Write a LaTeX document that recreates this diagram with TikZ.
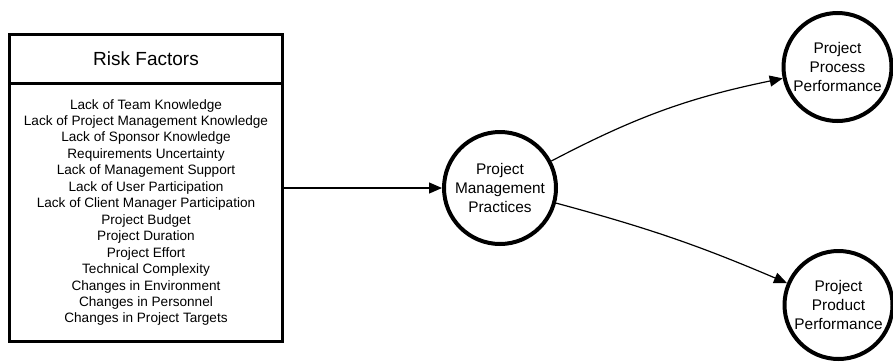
\documentclass[tikz,border=0pt]{standalone}
\usepackage{fontspec}
\setmainfont{Liberation Sans}
\usetikzlibrary{arrows.meta}
\tikzset{
  boxpart/.style={draw, line width=3pt, minimum width=273pt, inner sep=0pt, outer sep=0pt, align=center},
  factor/.style={draw, circle, line width=4pt, minimum size=108pt, inner sep=0pt, align=center,
    font=\fontsize{15.4}{18.8}\selectfont},
  link/.style={line width=1.2pt, -{Triangle[length=13pt,width=11pt]}}
}
\begin{document}
\begin{tikzpicture}[x=1pt, y=-1pt]
  \useasboundingbox (0,0) rectangle (893,362);
  % risk factor box: heading and list
  \node[boxpart, minimum height=49pt, font=\fontsize{19}{22}\selectfont] (title) at (146,59) {Risk Factors};
  \node[boxpart, minimum height=258pt, font=\fontsize{13.6}{16.45}\selectfont] (list) at (146,212.5)
    {Lack of Team Knowledge\\Lack of Project Management Knowledge\\Lack of Sponsor Knowledge\\
     Requirements Uncertainty\\Lack of Management Support\\Lack of User Participation\\
     Lack of Client Manager Participation\\Project Budget\\Project Duration\\Project Effort\\
     Technical Complexity\\Changes in Environment\\Changes in Personnel\\Changes in Project Targets};
  % practices and outcomes
  \node[factor, minimum size=112pt] (pmp) at (500,188) {Project\\Management\\Practices};
  \node[factor] (proc) at (837.5,67) {Project\\Process\\Performance};
  \node[factor] (prod) at (838.5,305) {Project\\Product\\Performance};
  % connectors
  \draw[link] (list.east |- pmp.west) -- (pmp.west);
  \draw[link] (pmp) to[bend left=8] (proc);
  \draw[link] (pmp) to[bend left=4] (prod);
\end{tikzpicture}
\end{document}
